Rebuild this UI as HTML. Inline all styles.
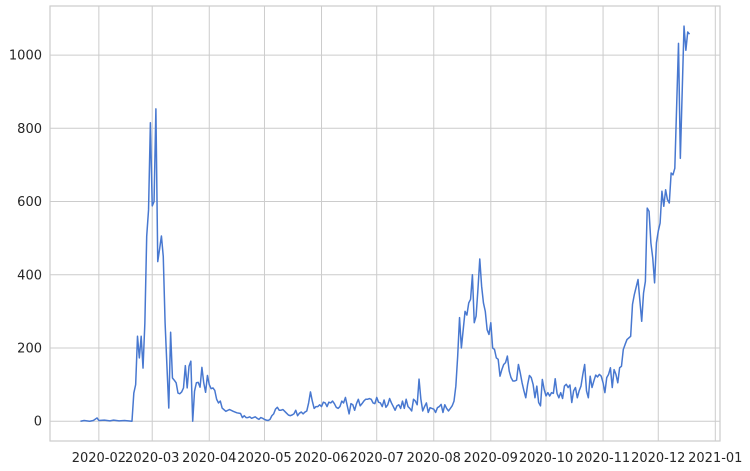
<!DOCTYPE html>
<html><head><meta charset="utf-8">
<style>
html,body{margin:0;padding:0;background:#fff;}
svg{display:block;font-family:"DejaVu Sans","Liberation Sans",sans-serif;}
</style></head>
<body>
<svg id="chart" width="750" height="471" viewBox="0 0 750 471" xmlns="http://www.w3.org/2000/svg">
  <rect x="50" y="6" width="670" height="435" fill="#ffffff"/>
  <g id="grid"></g>
  <g id="xticks"></g>
  <g id="yticks"></g>
  <path id="series" fill="none" stroke="#4878d0" stroke-width="1.5" stroke-linejoin="round"/>
  <rect x="50" y="6" width="670" height="435" fill="none" stroke="#cccccc" stroke-width="1.2"/>
</svg>
<script>
const startDate = "2020-01-22";
const dayIndex = [0,2,5,7,9,10,13,16,18,21,24,26,28,29,30,31,32,33,34,35,36,37,38,39,40,41,42,43,44,45,46,47,48,49,50,51,52,53,54,55,56,57,58,59,60,61,62,63,64,65,66,67,68,69,70,71,72,73,74,75,76,77,79,81,83,85,87,88,89,90,91,92,93,94,95,96,97,98,99,100,101,102,103,104,105,106,107,108,109,110,111,112,113,114,115,116,117,118,119,120,121,122,123,124,125,126,127,128,129,130,131,132,133,134,135,136,137,138,139,140,141,142,143,144,145,146,147,148,149,150,151,152,153,154,155,156,157,158,159,160,161,162,163,164,165,166,167,168,169,170,171,172,173,174,175,176,177,178,179,180,181,182,183,184,185,186,187,188,189,190,191,192,193,194,195,196,197,198,199,200,201,202,203,204,205,206,207,208,209,210,211,212,213,214,215,216,217,218,219,220,221,222,223,224,225,226,227,228,229,230,231,232,233,234,235,236,237,238,239,240,241,242,243,244,245,246,247,248,249,250,251,252,253,254,255,256,257,258,259,260,261,262,263,264,265,266,267,268,269,270,271,272,273,274,275,276,277,278,279,280,281,282,283,284,285,286,287,288,289,290,291,292,293,294,295,296,297,299,300,301,303,305,306,307,308,309,310,311,312,313,314,315,316,317,318,319,320,321,322,323,325,326,328,329,330,331];
const dailyValues = [0,2,0,2,9,2,3,1,3,1,2,1,0,77,100,232,173,232,145,268,505,577,815,588,600,853,436,470,506,450,268,150,36,243,118,112,105,77,75,80,91,152,91,150,164,0,82,105,106,93,147,105,79,125,100,89,91,84,60,50,55,36,27,32,27,23,21,10,15,10,10,12,8,10,12,8,5,10,8,5,3,2,5,15,20,33,38,30,30,32,27,22,17,15,17,20,30,15,22,25,20,25,28,50,80,55,35,40,40,45,40,52,50,40,52,50,55,48,38,35,40,55,50,65,42,20,48,45,30,48,60,42,48,55,60,60,62,60,50,48,65,52,50,40,58,38,45,62,50,40,30,42,45,35,55,35,60,40,35,28,60,55,45,115,60,28,40,50,24,37,35,33,24,37,40,46,24,45,35,28,35,42,55,96,178,283,200,250,300,290,323,333,400,269,287,360,443,369,323,300,250,237,269,200,196,173,169,123,141,155,160,178,137,119,110,110,112,155,132,105,83,64,100,125,119,100,64,96,51,42,114,87,69,78,69,78,76,116,76,64,78,62,96,101,92,99,51,83,92,64,83,96,128,155,83,64,123,92,110,126,121,128,123,105,78,119,128,146,92,141,128,105,146,150,196,210,223,232,319,346,387,273,350,382,582,573,487,446,378,487,519,541,628,587,632,605,596,678,673,691,1032,718,1079,1013,1063,1057];
const yTicks = [0,200,400,600,800,1000];
const xTickLabels = ["2020-02","2020-03","2020-04","2020-05","2020-06","2020-07","2020-08","2020-09","2020-10","2020-11","2020-12","2021-01"];

const NS = "http://www.w3.org/2000/svg";
const L = 50, R = 720, T = 6, B = 441;
const DAY = 86400000;
const t0 = Date.UTC(2020,0,22);
function dayOf(s){const p=s.split("-").map(Number);return (Date.UTC(p[0],p[1]-1,p[2]||1)-t0)/DAY;}
const dMin = Math.min(...dayIndex), dMax = Math.max(...dayIndex), dSpan = dMax - dMin;
const xLo = dMin - 0.05*dSpan, xHi = dMax + 0.05*dSpan;
const yLo = -54, yHi = 1134;
function xScale(d){return L + (d - xLo)/(xHi - xLo)*(R - L);}
function yScale(v){return B - (v - yLo)/(yHi - yLo)*(B - T);}

const grid = document.getElementById("grid");
const xt = document.getElementById("xticks");
const yt = document.getElementById("yticks");
yTicks.forEach(v=>{
  const y = yScale(v);
  const ln = document.createElementNS(NS,"line");
  
  
  ln.setAttribute("x1",L);ln.setAttribute("x2",R);ln.setAttribute("y1",y);ln.setAttribute("y2",y);
  ln.setAttribute("stroke","#cccccc");ln.setAttribute("stroke-width","1");
  grid.appendChild(ln);
  const tx = document.createElementNS(NS,"text");
  
  
  tx.setAttribute("x",L-8);tx.setAttribute("y",y+4.5);tx.setAttribute("text-anchor","end");
  tx.setAttribute("font-size","13");tx.setAttribute("fill","#262626");
  tx.textContent = v;
  yt.appendChild(tx);
});
xTickLabels.forEach(lab=>{
  const x = xScale(dayOf(lab));
  const ln = document.createElementNS(NS,"line");
  
  
  ln.setAttribute("x1",x);ln.setAttribute("x2",x);ln.setAttribute("y1",T);ln.setAttribute("y2",B);
  ln.setAttribute("stroke","#cccccc");ln.setAttribute("stroke-width","1");
  grid.appendChild(ln);
  const tx = document.createElementNS(NS,"text");
  
  
  tx.setAttribute("x",x);tx.setAttribute("y",462);tx.setAttribute("text-anchor","middle");
  tx.setAttribute("font-size","13");tx.setAttribute("fill","#262626");
  tx.textContent = lab;
  xt.appendChild(tx);
});
let d = "";
dayIndex.forEach((di,i)=>{
  d += (i?"L":"M") + xScale(di).toFixed(2) + "," + yScale(dailyValues[i]).toFixed(2);
});
document.getElementById("series").setAttribute("d", d);
</script>
</body></html>
